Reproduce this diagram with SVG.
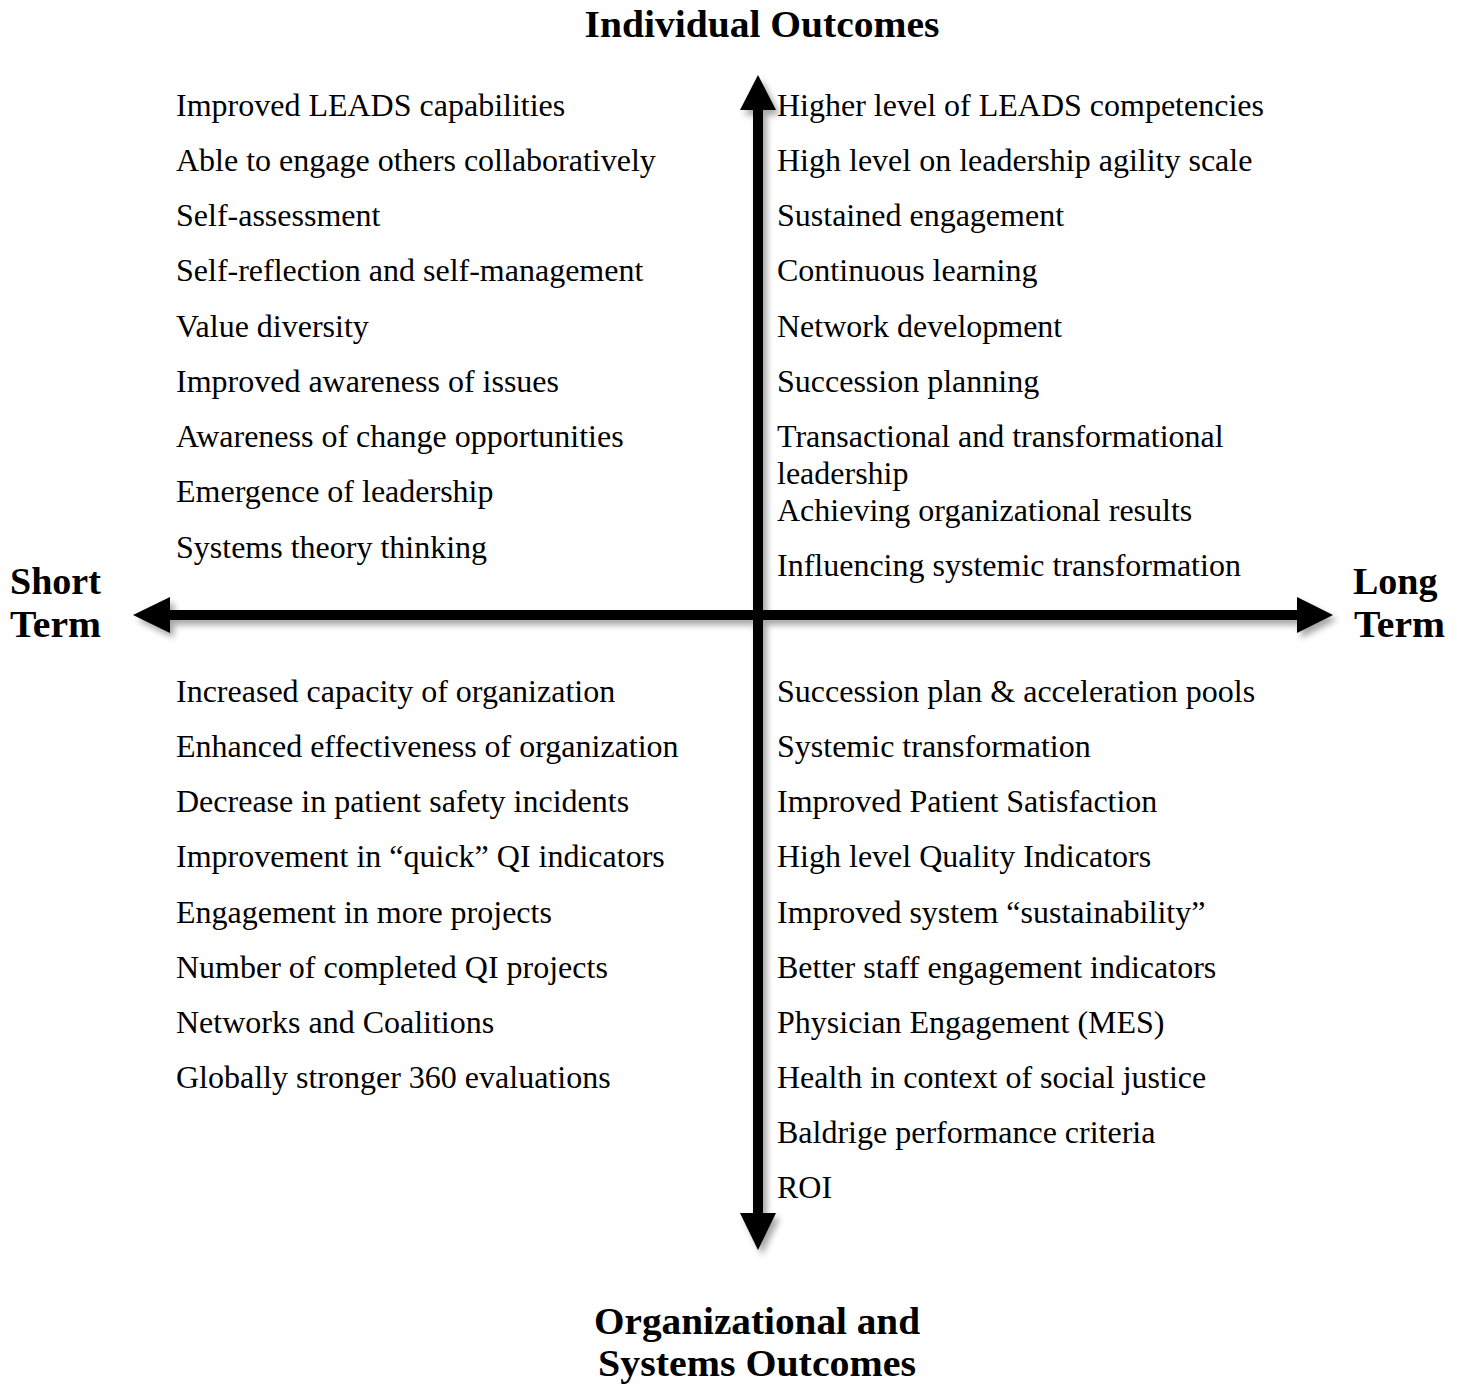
<svg xmlns="http://www.w3.org/2000/svg" width="1461" height="1385" viewBox="0 0 1461 1385">
<style>
.t{font-family:"Liberation Serif","Times New Roman",serif;font-size:32px;fill:#000}
.h{font-family:"Liberation Serif","Times New Roman",serif;font-size:38px;font-weight:bold;fill:#000}
</style>
<defs>
<filter id="sh" x="-10%" y="-10%" width="120%" height="120%">
<feDropShadow dx="4" dy="5" stdDeviation="3" flood-color="#000" flood-opacity="0.35"/>
</filter>
</defs>
<rect width="1461" height="1385" fill="#fff"/>
<g id="connectors" filter="url(#sh)">
<rect x="753" y="108" width="10" height="1107" fill="#000"/>
<rect x="168" y="610" width="1131" height="10" fill="#000"/>
<polygon points="758,75 776,110 740,110" fill="#000"/>
<polygon points="758,1250 776,1213 740,1213" fill="#000"/>
<polygon points="133,615 170,597 170,633" fill="#000"/>
<polygon points="1333,615 1297,597 1297,633" fill="#000"/>
</g>
<g id="label-top"><text class="h" x="762" y="37" text-anchor="middle" textLength="355" lengthAdjust="spacingAndGlyphs">Individual Outcomes</text></g>
<g id="label-left"><text class="h" x="10" y="594">Short</text><text class="h" x="10" y="637" textLength="91" lengthAdjust="spacingAndGlyphs">Term</text></g>
<g id="label-right"><text class="h" x="1353" y="594">Long</text><text class="h" x="1354" y="637" textLength="91" lengthAdjust="spacingAndGlyphs">Term</text></g>
<g id="label-bottom"><text class="h" x="757" y="1334" text-anchor="middle" textLength="326" lengthAdjust="spacingAndGlyphs">Organizational and</text><text class="h" x="757" y="1376" text-anchor="middle" textLength="318" lengthAdjust="spacingAndGlyphs">Systems Outcomes</text></g>
<g id="q-top-left">
<text class="t" x="176" y="116">Improved LEADS capabilities</text>
<text class="t" x="176" y="171">Able to engage others collaboratively</text>
<text class="t" x="176" y="226">Self-assessment</text>
<text class="t" x="176" y="281">Self-reflection and self-management</text>
<text class="t" x="176" y="337">Value diversity</text>
<text class="t" x="176" y="392">Improved awareness of issues</text>
<text class="t" x="176" y="447">Awareness of change opportunities</text>
<text class="t" x="176" y="502">Emergence of leadership</text>
<text class="t" x="176" y="558">Systems theory thinking</text>
</g>
<g id="q-top-right">
<text class="t" x="777" y="116">Higher level of LEADS competencies</text>
<text class="t" x="777" y="171">High level on leadership agility scale</text>
<text class="t" x="777" y="226">Sustained engagement</text>
<text class="t" x="777" y="281">Continuous learning</text>
<text class="t" x="777" y="337">Network development</text>
<text class="t" x="777" y="392">Succession planning</text>
<text class="t" x="777" y="447">Transactional and transformational</text>
<text class="t" x="777" y="484">leadership</text>
<text class="t" x="777" y="521">Achieving organizational results</text>
<text class="t" x="777" y="576">Influencing systemic transformation</text>
</g>
<g id="q-bottom-left">
<text class="t" x="176" y="702">Increased capacity of organization</text>
<text class="t" x="176" y="757">Enhanced effectiveness of organization</text>
<text class="t" x="176" y="812">Decrease in patient safety incidents</text>
<text class="t" x="176" y="867">Improvement in “quick” QI indicators</text>
<text class="t" x="176" y="923">Engagement in more projects</text>
<text class="t" x="176" y="978">Number of completed QI projects</text>
<text class="t" x="176" y="1033">Networks and Coalitions</text>
<text class="t" x="176" y="1088">Globally stronger 360 evaluations</text>
</g>
<g id="q-bottom-right">
<text class="t" x="777" y="702">Succession plan &amp; acceleration pools</text>
<text class="t" x="777" y="757">Systemic transformation</text>
<text class="t" x="777" y="812">Improved Patient Satisfaction</text>
<text class="t" x="777" y="867">High level Quality Indicators</text>
<text class="t" x="777" y="923">Improved system “sustainability”</text>
<text class="t" x="777" y="978">Better staff engagement indicators</text>
<text class="t" x="777" y="1033">Physician Engagement (MES)</text>
<text class="t" x="777" y="1088">Health in context of social justice</text>
<text class="t" x="777" y="1143">Baldrige performance criteria</text>
<text class="t" x="777" y="1198">ROI</text>
</g>
</svg>
